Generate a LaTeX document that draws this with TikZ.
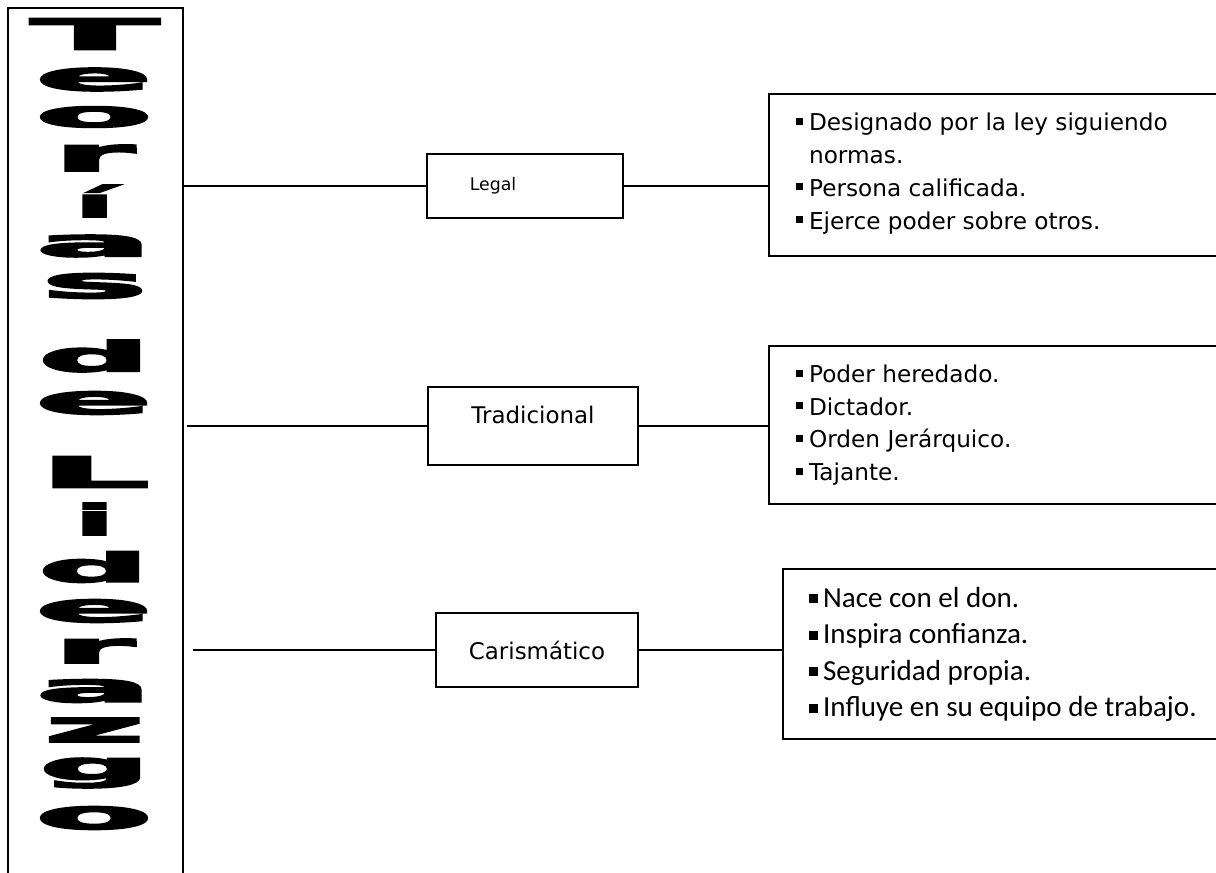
\documentclass[tikz,border=0pt]{standalone}
\usepackage{fontspec}
\setmainfont{DejaVu Sans}
\newfontfamily\listfont{Carlito}
\newfontfamily\ldfont{DejaVu Sans}[BoldFeatures={FakeBold=4}]
\usepackage{graphicx}
\usetikzlibrary{positioning}
\newdimen\ldpx
\ldpx=0.75pt
\newcommand{\sqbul}{\rule[6\ldpx]{7\ldpx}{7\ldpx}\hspace{6\ldpx}}
\newcommand{\sqbulc}{\rule[4\ldpx]{9\ldpx}{9\ldpx}\hspace{5\ldpx}}

\begin{document}
\begin{tikzpicture}[x=0.75pt, y=-0.75pt, line width=1.6pt,
    caja/.style={draw, rectangle, inner sep=0pt},
    rasgo/.style={anchor=base west, inner sep=0pt, font=\fontsize{17.4}{20}\selectfont},
    rasgoc/.style={anchor=base west, inner sep=0pt, font=\listfont\fontsize{21.8}{24}\selectfont}]
    \useasboundingbox (0,0) rectangle (1216,873);
    \node[caja, anchor=north west, minimum width=175\ldpx, minimum height=880\ldpx] (teorias) at (7,7) {};
    \foreach \ch/\lx/\ly/\lw/\lh [count=\i] in {T/95/34/127/31, e/94/79.5/116/23, o/94/117/116/21, r/94/158/80/26, í/94.5/201/39/32, a/94/246/115/22, s/94.5/286/105/25, d/94.5/356/111/32, e/94/403/116/23, L/94.5/472/109/31, i/94.5/519/39/32, d/94/567/110/31, e/94/611/116/23, r/94/651/80/24, a/94/691/115/23, z/94.5/730/100/24, g/95/773/110/30, o/94/818/116/23}
        \node[inner sep=0pt] (letra\i) at (\lx,\ly) {\resizebox*{\lw\ldpx}{\lh\ldpx}{\ldfont\bfseries\ch}};

    \node[caja, minimum width=196\ldpx, minimum height=64\ldpx, label={[xshift=-32\ldpx, font=\fontsize{13}{15}\selectfont]center:Legal}] (legal) at (525,186) {};
    \node[caja, minimum width=210\ldpx, minimum height=78\ldpx, label={[yshift=11\ldpx, font=\fontsize{17.2}{20}\selectfont]center:Tradicional}] (tradicional) at (533,426) {};
    \node[caja, minimum width=202\ldpx, minimum height=74\ldpx, font=\fontsize{17.2}{20}\selectfont] (carismatico) at (537,650) {Carismático};

    \node[caja, anchor=north west, minimum width=460\ldpx, minimum height=162\ldpx] (rasgoslegal) at (768,93) {};
    \node[caja, anchor=north west, minimum width=460\ldpx, minimum height=158\ldpx] (rasgostradicional) at (768,345) {};
    \node[caja, anchor=north west, minimum width=450\ldpx, minimum height=170\ldpx] (rasgoscarismatico) at (782,568) {};

    \draw (legal.west -| teorias.east) -- (legal.west);
    \draw (legal.east) -- (legal.east -| rasgoslegal.west);
    \draw ([xshift=3\ldpx]tradicional.west -| teorias.east) -- (tradicional.west);
    \draw (tradicional.east) -- (tradicional.east -| rasgostradicional.west);
    \draw ([xshift=9\ldpx]carismatico.west -| teorias.east) -- (carismatico.west);
    \draw (carismatico.east) -- (carismatico.east -| rasgoscarismatico.west);

    \foreach \b/\t [count=\i] in {1/Designado por la ley siguiendo, 0/normas., 1/Persona calificada., 1/Ejerce poder sobre otros.}
        \node[rasgo] (legal\i) at (795, 131+32.7*\i-32.7) {\ifnum\b=1 \sqbul\else\hspace{13\ldpx}\fi\t};
    \foreach \t [count=\i] in {Poder heredado., Dictador., Orden Jerárquico., Tajante.}
        \node[rasgo] (tradicional\i) at (795, 382.5+32.7*\i-32.7) {\sqbul\t};
    \foreach \t [count=\i] in {Nace con el don., Inspira confianza., Seguridad propia., Influye en su equipo de trabajo.}
        \node[rasgoc] (carismatico\i) at (808, 607+36.5*\i-36.5) {\sqbulc\t};
\end{tikzpicture}
\end{document}
